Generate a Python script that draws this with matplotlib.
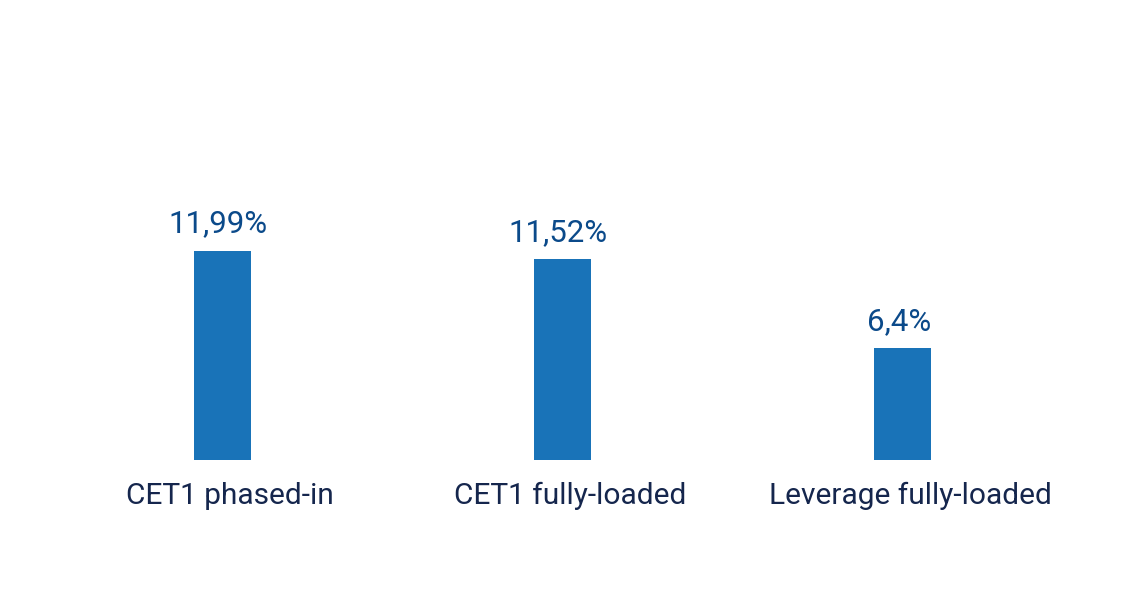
import matplotlib
matplotlib.use("Agg")
import matplotlib.pyplot as plt
from matplotlib.transforms import ScaledTranslation

categories = ["CET1 phased-in", "CET1 fully-loaded", "Leverage fully-loaded"]
values = [11.99, 11.52, 6.4]
value_labels = ["11,99%", "11,52%", "6,4%"]

plt.rcParams['font.family'] = ['Roboto', 'DejaVu Sans']

W, H = 1142, 592
fig = plt.figure(figsize=(W / 100, H / 100), dpi=100)
ax = fig.add_axes([52 / W, 132 / H, 1021 / W, 460 / H])

x = list(range(len(categories)))
ax.bar(x, values, width=0.168, color="#1973b8")
ax.set_xlim(-0.5, len(categories) - 0.5)
ax.set_ylim(0, 26.4)

for xi, v, lab in zip(x, values, value_labels):
    ax.annotate(lab, (xi, v), xytext=(-3, 9), textcoords="offset points",
                ha="center", va="bottom", fontsize=22.5, color="#0b4a8a")

ax.set_xticks(x)
ax.set_xticklabels(categories, fontsize=21.5, color="#15264d")
ax.tick_params(axis="x", length=0, pad=16)
shift = ScaledTranslation(8 / 100, 0, fig.dpi_scale_trans)
for lbl in ax.get_xticklabels():
    lbl.set_transform(lbl.get_transform() + shift)
ax.set_yticks([])
for s in ax.spines.values():
    s.set_visible(False)

fig.savefig("out.png", dpi=100)
